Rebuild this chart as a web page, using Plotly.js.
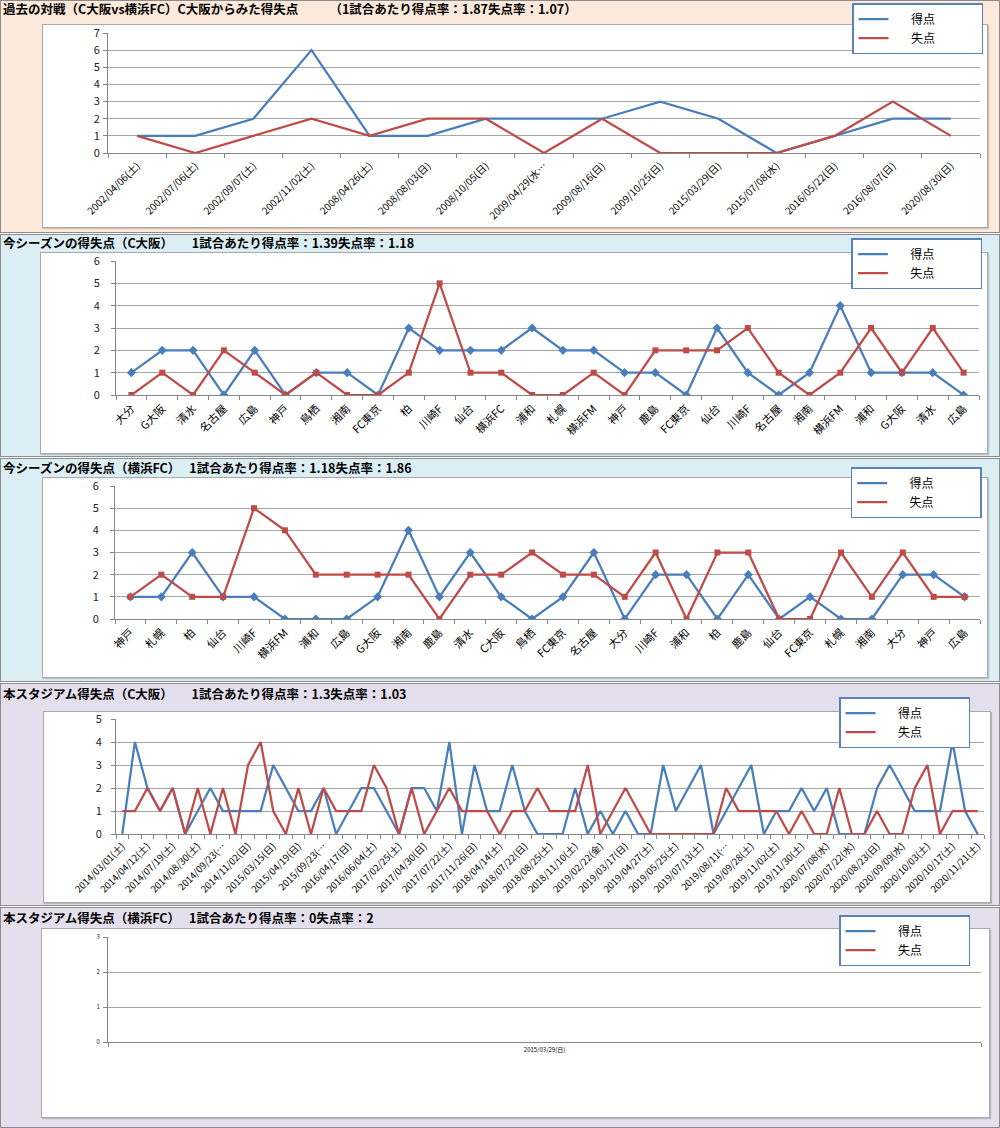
<!DOCTYPE html>
<html><head><meta charset="utf-8">
<script src="https://cdn.plot.ly/plotly-3.0.1.min.js"></script>
<style>
body{margin:0;width:1000px;height:1128px;position:relative;overflow:hidden;background:#fff;font-family:"Noto Sans CJK JP",sans-serif}
.sec{position:absolute;left:0;width:1000px;box-sizing:border-box;border:1px solid #8c8c8c}
.box{position:absolute;background:#fff;box-sizing:border-box;border:1px solid #a9a9a9;box-shadow:1px 1px 1px rgba(0,0,0,0.18)}
.plot{position:absolute;left:0;width:1000px}
</style></head><body>
<script>
// ---------- data ----------
const h2hDates = ["2002/04/06(土)","2002/07/06(土)","2002/09/07(土)","2002/11/02(土)","2008/04/26(土)","2008/08/03(日)","2008/10/05(日)","2009/04/29(水…","2009/08/16(日)","2009/10/25(日)","2015/03/29(日)","2015/07/08(水)","2016/05/22(日)","2016/08/07(日)","2020/08/30(日)"];
const h2hFor     = [1,1,2,6,1,1,2,2,2,3,2,0,1,2,2];
const h2hAgainst = [1,0,1,2,1,2,2,0,2,0,0,0,1,3,1];

const cosakaOpp = ["大分","G大阪","清水","名古屋","広島","神戸","鳥栖","湘南","FC東京","柏","川崎F","仙台","横浜FC","浦和","札幌","横浜FM","神戸","鹿島","FC東京","仙台","川崎F","名古屋","湘南","横浜FM","浦和","G大阪","清水","広島"];
const cosakaFor     = [1,2,2,0,2,0,1,1,0,3,2,2,2,3,2,2,1,1,0,3,1,0,1,4,1,1,1,0];
const cosakaAgainst = [0,1,0,2,1,0,1,0,0,1,5,1,1,0,0,1,0,2,2,2,3,1,0,1,3,1,3,1];

const yfcOpp = ["神戸","札幌","柏","仙台","川崎F","横浜FM","浦和","広島","G大阪","湘南","鹿島","清水","C大阪","鳥栖","FC東京","名古屋","大分","川崎F","浦和","柏","鹿島","仙台","FC東京","札幌","湘南","大分","神戸","広島"];
const yfcFor     = [1,1,3,1,1,0,0,0,1,4,1,3,1,0,1,3,0,2,2,0,2,0,1,0,0,2,2,1];
const yfcAgainst = [1,2,1,1,5,4,2,2,2,2,0,2,2,3,2,2,1,3,0,3,3,0,0,3,1,3,1,1];

// tick labels shown (every second match)
const stadiumLabels = ["2014/03/01(土)","2014/04/12(土)","2014/07/19(土)","2014/08/30(土)","2014/09/23(…","2014/11/02(日)","2015/03/15(日)","2015/04/19(日)","2015/09/23(…","2016/04/17(日)","2016/06/04(土)","2017/02/25(土)","2017/04/30(日)","2017/07/22(土)","2017/11/26(日)","2018/04/14(土)","2018/07/22(日)","2018/08/25(土)","2018/11/10(土)","2019/02/22(金)","2019/03/17(日)","2019/04/27(土)","2019/05/25(土)","2019/07/13(土)","2019/08/11(…","2019/09/28(土)","2019/11/02(土)","2019/11/30(土)","2020/07/08(水)","2020/07/22(水)","2020/08/23(日)","2020/09/09(水)","2020/10/03(土)","2020/10/17(土)","2020/11/21(土)"];
const stadiumFor     = [0,4,2,1,2,0,1,2,1,1,1,1,3,2,1,1,2,0,1,2,2,1,0,2,2,1,4,0,3,1,1,3,1,0,0,0,2,0,1,0,1,0,0,3,1,2,3,0,1,2,3,0,1,1,2,1,2,0,0,0,2,3,2,1,1,1,4,1,0];
const stadiumAgainst = [1,1,2,1,2,0,2,0,2,0,3,4,1,0,2,0,2,1,1,1,3,2,0,2,0,1,2,1,1,1,0,1,1,2,1,1,1,3,0,1,2,1,0,0,0,0,0,0,2,1,1,1,1,0,1,0,0,2,0,0,1,0,0,2,3,0,1,1,1];

const yfcStadiumLabels  = ["2015/03/29(日)"];
const yfcStadiumFor     = [0];
const yfcStadiumAgainst = [2];

const seriesNames = ["得点","失点"];
const titles = [
  "過去の対戦（C大阪vs横浜FC）C大阪からみた得失点　　　（1試合あたり得点率：1.87失点率：1.07）",
  "今シーズンの得失点（C大阪）　　1試合あたり得点率：1.39失点率：1.18",
  "今シーズンの得失点（横浜FC）　 1試合あたり得点率：1.18失点率：1.86",
  "本スタジアム得失点（C大阪）　　1試合あたり得点率：1.3失点率：1.03",
  "本スタジアム得失点（横浜FC）　 1試合あたり得点率：0失点率：2"
];

// ---------- layout / style ----------
const FONT = '"Noto Sans CJK JP","Noto Sans",sans-serif';
const BLUE = '#4a7ebb', RED = '#be4b48', GRID = '#a6a6a6', AXIS = '#868686';
const HEAD = 30; // extra transparent room above each plot div

const specs = [
  {top:0,   h:233, bg:'#fde9d9', titleY:10,  box:[42,24,988,228],  plot:[108,33,980,153],    ymax:7, labels:h2hDates, step:1, f:h2hFor, a:h2hAgainst, markers:false, xfs:10, yfs:11, ysd:1, angle:-45, leg:[852,3]},
  {top:234, h:223, bg:'#dbeef4', titleY:244, box:[40,252,988,454], plot:[115.5,261,978.6,395], ymax:6, labels:cosakaOpp, step:1, f:cosakaFor, a:cosakaAgainst, markers:true, xfs:11, yfs:11, ysd:9, angle:-45, leg:[851,238]},
  {top:458, h:224, bg:'#dbeef4', titleY:469, box:[42,477,988,678], plot:[114.5,486,980.5,619], ymax:6, labels:yfcOpp, step:1, f:yfcFor, a:yfcAgainst, markers:true, xfs:11, yfs:11, ysd:9, angle:-45, leg:[851,467]},
  {top:683, h:223, bg:'#e4dfec', titleY:695, box:[43,711,991,903], plot:[115.5,719,984,834],   ymax:5, labels:stadiumLabels, step:2, f:stadiumFor, a:stadiumAgainst, markers:false, xfs:9.5, yfs:11, ysd:7, angle:-45, leg:[839,697]},
  {top:907, h:221, bg:'#e4dfec', titleY:919, box:[41,928,990,1118], plot:[108,937,981,1042],   ymax:3, labels:yfcStadiumLabels, step:1, f:yfcStadiumFor, a:yfcStadiumAgainst, markers:false, xfs:6, yfs:6, ysd:2, angle:0, leg:[839,915]}
];

function el(cls, css){ const d=document.createElement('div'); d.className=cls; Object.assign(d.style,css); document.body.appendChild(d); return d; }
const padName = nm => '\u3000\u00a0\u00a0' + nm + '\u3000\u3000\u3000\u00a0\u00a0';

specs.forEach((s,i)=>{
  el('sec',{top:s.top+'px',height:s.h+'px',background:s.bg});
  el('box',{left:s.box[0]+'px',top:s.box[1]+'px',width:(s.box[2]-s.box[0])+'px',height:(s.box[3]-s.box[1])+'px'});
  const dTop = s.top - HEAD, dH = s.h + HEAD;
  const pd = el('plot',{top:dTop+'px',height:dH+'px'});
  const n = s.f.length;
  const xs = s.f.map((_,k)=>k);
  const [pl,pt,pr,pb] = s.plot;
  const pw = pr-pl, ph = pb-pt;
  const traces = [
    {x:xs, y:s.f, mode:'lines', name:padName(seriesNames[0]), line:{color:BLUE,width:2.25}, hoverinfo:'skip'},
  ];
  if(s.markers) traces.push({x:xs, y:s.f, mode:'markers', showlegend:false, marker:{symbol:'diamond',size:7,color:BLUE}, hoverinfo:'skip'});
  traces.push({x:xs, y:s.a, mode:'lines', name:padName(seriesNames[1]), line:{color:RED,width:2.25}, hoverinfo:'skip'});
  if(s.markers) traces.push({x:xs, y:s.a, mode:'markers', showlegend:false, marker:{symbol:'square',size:6,color:RED}, hoverinfo:'skip'});

  const layout = {
    width:1000, height:dH,
    margin:{l:pl, r:1000-pr, t:pt-dTop, b:dTop+dH-pb, pad:0},
    paper_bgcolor:'rgba(0,0,0,0)', plot_bgcolor:'rgba(0,0,0,0)',
    font:{family:FONT, color:'#000'},
    title:{text:'<b>'+titles[i]+'</b>', font:{family:FONT,size:12.5,color:'#000'}, xref:'container', x:0.003, xanchor:'left', yref:'container', y:1-(s.titleY-dTop)/dH, yanchor:'middle'},
    showlegend:true,
    legend:{x:(s.leg[0]-pl)/pw, y:(pb-s.leg[1])/ph, xanchor:'left', yanchor:'top', bgcolor:'#fff', bordercolor:'#5a82b8', borderwidth:1.5, font:{family:FONT,size:12,color:'#000'}, tracegroupgap:0},
    xaxis:{range:[-0.5,n-0.5], tickmode:'array', tickvals:s.labels.map((_,k)=>k*s.step), ticktext:s.labels, tickangle:s.angle, ticks:'', showgrid:false, zeroline:false, showline:true, linecolor:AXIS, linewidth:1, tickfont:{family:FONT,size:s.xfs,color:'#000'}, ticklabelstandoff:2,
      minor:{tickmode:'linear', tick0:-0.5, dtick:1, ticks:'outside', ticklen:4, tickcolor:AXIS, showgrid:false}, fixedrange:true},
    yaxis:{range:[0,s.ymax], tickmode:'linear', tick0:0, dtick:1, showgrid:true, gridcolor:GRID, gridwidth:1, showline:true, linecolor:AXIS, ticks:'outside', ticklen:4, tickcolor:AXIS, zeroline:false, ticklabelstandoff:s.ysd, tickfont:{family:FONT,size:s.yfs,color:'#222'}, fixedrange:true}
  };
  Plotly.newPlot(pd, traces, layout, {displayModeBar:false, staticPlot:true});
});
</script>
</body></html>
